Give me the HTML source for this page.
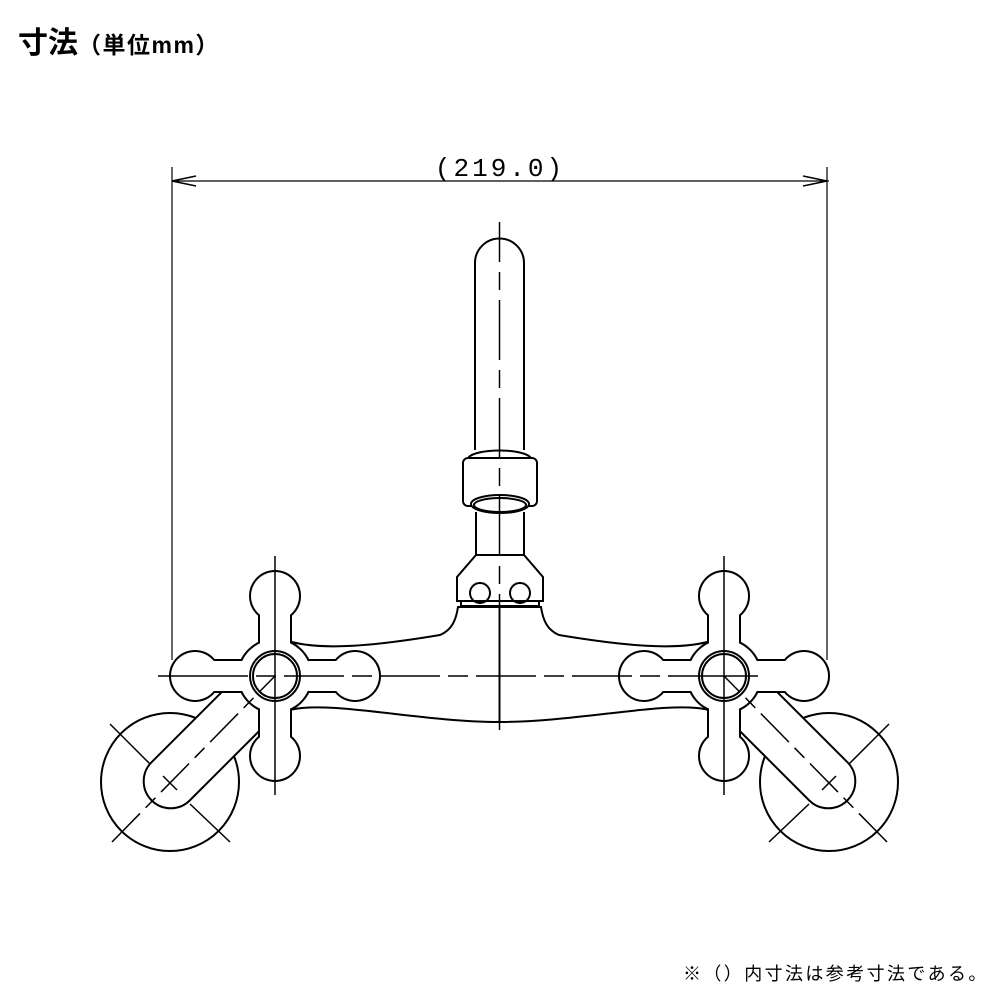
<!DOCTYPE html>
<html><head><meta charset="utf-8"><style>
html,body{margin:0;padding:0;background:#fff;}
body{width:1000px;height:1000px;position:relative;overflow:hidden;font-family:"Liberation Sans","Noto Sans CJK JP",sans-serif;}
.t{position:absolute;left:18px;top:26px;font-weight:bold;font-size:30px;color:#000;line-height:36px;}
.t small{font-size:23px;letter-spacing:1.5px;}
.f{position:absolute;left:683px;top:960px;font-size:18px;letter-spacing:2.4px;color:#000;}
svg{position:absolute;left:0;top:0;}
</style></head><body>
<div class="t">寸法<small>（単位mm）</small></div>
<div class="f">※（）内寸法は参考寸法である。</div>
<svg width="1000" height="1000" viewBox="0 0 1000 1000" fill="none" stroke="#000" stroke-width="2">
<defs>
<g id="half">
  <path d="M285 640 C320 652 380 645 440 635 C452 630 456 620 458 607 L499.5 607 L499.5 722 C420 722 330 700 290 710 Z" fill="#fff"/>
  <circle cx="170" cy="782" r="69" fill="#fff"/>
  <rect x="144" y="755" width="170" height="54" rx="27" transform="rotate(-45 170 782)" fill="#fff"/>
  <g fill="#000" stroke="#000" stroke-width="4">
    <circle cx="275" cy="596" r="24"/><circle cx="275" cy="756" r="24"/>
    <circle cx="195" cy="676" r="24"/><circle cx="355" cy="676" r="24"/>
    <rect x="260" y="596" width="30" height="160"/><rect x="195" y="661" width="160" height="30"/>
    <circle cx="275" cy="676" r="36"/>
  </g>
  <g fill="#fff" stroke="none">
    <circle cx="275" cy="596" r="24"/><circle cx="275" cy="756" r="24"/>
    <circle cx="195" cy="676" r="24"/><circle cx="355" cy="676" r="24"/>
    <rect x="260" y="596" width="30" height="160"/><rect x="195" y="661" width="160" height="30"/>
    <circle cx="275" cy="676" r="36"/>
  </g>
  <circle cx="275" cy="676" r="25"/><circle cx="275" cy="676" r="22"/>
  <g stroke-width="1.5">
    <line x1="275" y1="556" x2="275" y2="795"/>
    <line x1="112" y1="842" x2="275" y2="676" stroke-dasharray="40 8 14 8"/>
    <line x1="110" y1="724" x2="150" y2="764"/>
    <line x1="190" y1="804" x2="230" y2="842"/>
    <line x1="163" y1="776" x2="177" y2="790"/>
  </g>
  <line x1="172" y1="167" x2="172" y2="660" stroke-width="1.2"/>
  <path d="M196 176 L172 181 L196 186" stroke-width="1.5"/>
</g>
</defs>
<use href="#half"/>
<use href="#half" transform="translate(999 0) scale(-1 1)"/>
<path d="M475 450 L475 263 A24.5 24.5 0 0 1 524 263 L524 450" fill="#fff"/>
<path d="M468 458 C475 448 524 448 531 458" />
<rect x="463" y="458" width="74" height="48" rx="5" fill="#fff"/>
<ellipse cx="500" cy="504" rx="29" ry="9" fill="#fff"/>
<ellipse cx="500" cy="505" rx="26" ry="7"/>
<line x1="476" y1="512" x2="476" y2="555"/><line x1="524" y1="512" x2="524" y2="555"/>
<path d="M476 555 L524 555 L543 577 L543 601 L457 601 L457 577 Z" fill="#fff"/>
<circle cx="480" cy="593" r="10"/><circle cx="520" cy="593" r="10"/>
<rect x="461" y="601" width="78" height="5"/>
<g stroke-width="1.5">
  <line x1="158" y1="676" x2="842" y2="676" stroke-dasharray="90 8 20 8 60 8 20 8 60 8 20 8 60 8 20 8 60 8 20 8 90"/>
  <line x1="499.5" y1="222" x2="499.5" y2="730" stroke-dasharray="40 10 18 10 60 10 18 10 60 10 18 10 60 10 18 10 60 10 18 10 40"/>
</g>
<line x1="172" y1="181" x2="829" y2="181" stroke-width="1.2"/>
<text x="500" y="176" text-anchor="middle" font-family="Liberation Mono, monospace" font-size="26" letter-spacing="3" fill="#000" stroke="none">(219.0)</text>
</svg>
</body></html>
